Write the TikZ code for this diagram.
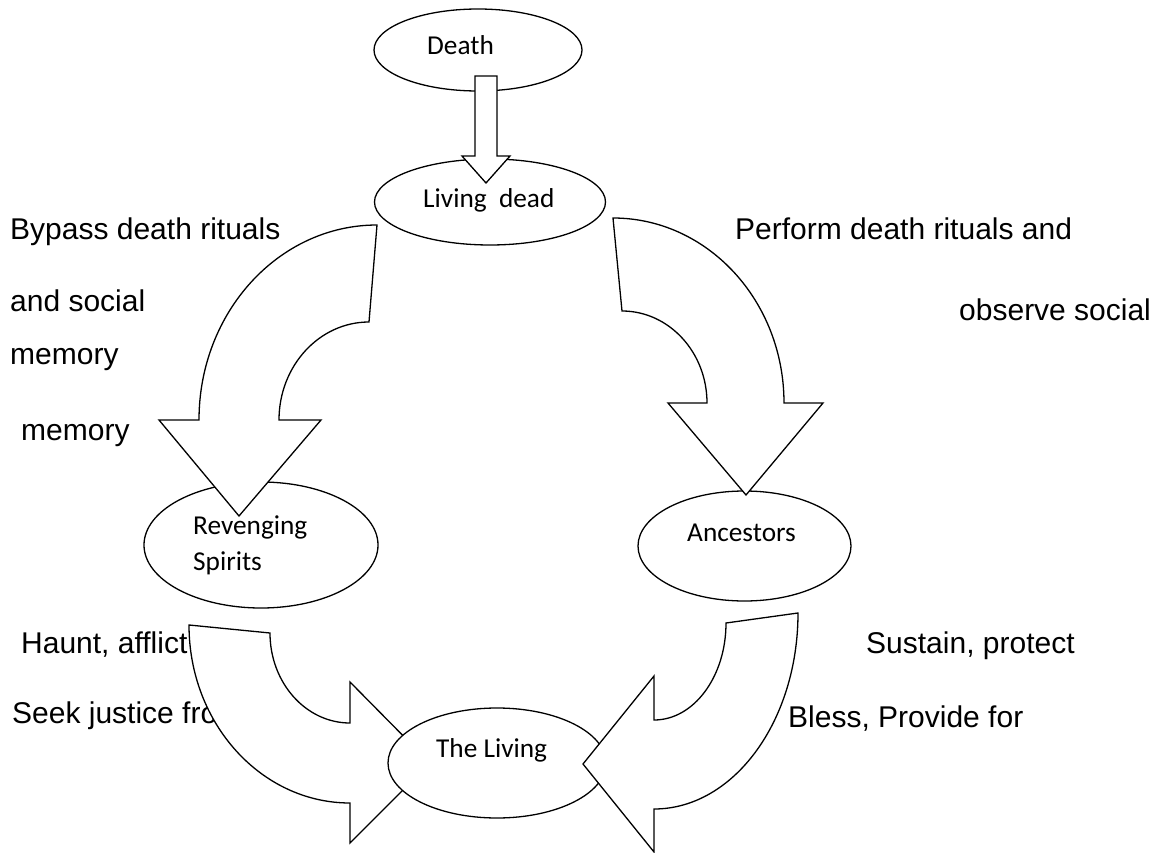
\documentclass[tikz,border=0pt]{standalone}
\usepackage{fontspec}
\setmainfont{Liberation Sans}
\newfontfamily\calib{Carlito}
\usetikzlibrary{shapes.geometric}
\tikzset{
  ell/.style={ellipse, draw=black, fill=white, line width=1.3pt, inner sep=0pt},
  blockarrow/.style={draw=black, fill=white, line width=1.3pt, line join=miter},
  sidetext/.style={anchor=base west, inner sep=0pt, font=\fontsize{30}{36}\selectfont},
  elltext/.style={anchor=base west, inner sep=0pt, font=\calib\fontsize{27.3}{33}\selectfont},
}
\begin{document}
\begin{tikzpicture}[x=1pt, y=-1pt]
\useasboundingbox (0,0) rectangle (1157,853);
% side texts
\node[sidetext] (t1) at (10,240) {Bypass death rituals};
\node[sidetext] (t2) at (10,312) {and social};
\node[sidetext] (t3) at (10,364) {memory};
\node[sidetext] (t4) at (21,440) {memory};
\node[sidetext] (t5) at (735,240) {Perform death rituals and};
\node[sidetext] (t6) at (959,320) {observe social};
\node[sidetext] (t7) at (21,653) {Haunt, afflict};
\node[sidetext] (t8) at (12,723) {Seek justice from};
\node[sidetext] (t9) at (866,653) {Sustain, protect};
\node[sidetext] (t10) at (788,727) {Bless, Provide for};
% ellipses
\node[ell, minimum width=208pt, minimum height=82pt] (death) at (478,50) {};
\node[ell, minimum width=231pt, minimum height=86pt] (livingdead) at (490,202) {};
\node[ell, minimum width=234pt, minimum height=126pt] (revenging) at (261,545) {};
\node[ell, minimum width=213pt, minimum height=110pt] (ancestors) at (744.5,546) {};
% death -> living dead
\draw[blockarrow] (475,76) -- (497,76) -- (497,156) -- (510,156) -- (486,183) -- (462,156) -- (475,156) -- cycle;
% living dead -> revenging spirits
\draw[blockarrow] (377,225) .. controls (278.7,225) and (199,312.3) .. (199,420) -- (159,420) -- (239,516) -- (321,420) -- (279,420) .. controls (279,365.9) and (319.3,322) .. (369,322) -- cycle;
% living dead -> ancestors
\draw[blockarrow] (613,218) .. controls (707.4,218) and (784,300.8) .. (784,403) -- (823,403) -- (746,495) -- (668,403) -- (707,403) .. controls (707,352.2) and (668.9,311) .. (622,311) -- cycle;
% revenging spirits -> the living
\draw[blockarrow] (189,625) .. controls (189,723.3) and (261.1,803) .. (350,803) -- (350,843) -- (430,763) -- (350,682) -- (350,723) .. controls (305.8,723) and (270,682.7) .. (270,633) -- cycle;
% the living
\node[ell, minimum width=218pt, minimum height=110pt] (living) at (497,763) {};
% ancestors -> the living
\draw[blockarrow] (798,613) .. controls (798,721.2) and (733.5,809) .. (654,809) -- (654,852) -- (583,764) -- (654,676) -- (654,720) .. controls (693.8,720) and (726,676.6) .. (726,623) -- cycle;
% ellipse texts
\node[elltext] (deathtxt) at (427,55) {Death};
\node[elltext] (ldtxt) at (423,208) {Living\ \ dead};
\node[elltext] (rvtxt1) at (193,534) {Revenging};
\node[elltext] (rvtxt2) at (193,570) {Spirits};
\node[elltext] (antxt) at (687,541) {Ancestors};
\node[elltext] (lvtxt) at (436,757) {The Living};
\end{tikzpicture}
\end{document}
